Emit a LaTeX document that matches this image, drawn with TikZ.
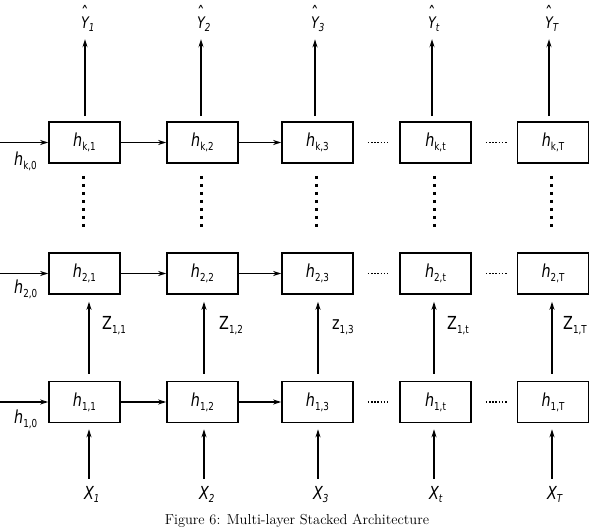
\documentclass[tikz,border=0pt]{standalone}
\usepackage{fontspec}
\usetikzlibrary{arrows.meta}
\newfontfamily\lf[FakeStretch=0.8]{DejaVu Sans}
\newcommand\subsz{\fontsize{11}{11}\selectfont}
\newcommand\hb[1]{{\itshape h}\raisebox{-4bp}{\subsz #1}}
\newcommand\hatY[1]{\ooalign{\itshape Y\cr\hidewidth\raisebox{8.5bp}{\fontsize{19}{19}\selectfont\char"02C6}\hidewidth\cr}\rlap{\raisebox{-3bp}{\subsz\itshape #1}}}
\newcommand\labX[1]{{\itshape X}\rlap{\raisebox{-3bp}{\subsz\itshape #1}}}
\newcommand\labZ[2]{#1\raisebox{-4bp}{\subsz #2}}
\begin{document}
\begin{tikzpicture}[x=1bp,y=-1bp,
  box/.style={draw, line width=1.6bp, minimum width=71bp, minimum height=41bp, inner sep=0pt, font=\lf\fontsize{18}{18}\selectfont},
  arr/.style={-{Stealth[length=8bp,width=5bp]}, line width=1.3bp},
  vdots/.style={line width=3bp, dash pattern=on 3bp off 5bp},
  hdots/.style={line width=1.8bp, dash pattern=on 1.6bp off 1.6bp},
  lab/.style={font=\lf\fontsize{18}{18}\selectfont, inner sep=0pt},
  ylab/.style={font=\lf\fontsize{16}{16}\selectfont, inner sep=0pt}]
\useasboundingbox (0,0) rectangle (593,532);
\foreach \c/\bx/\yx/\zx/\zl/\zt in {1/84.5/85/89/102/Z, 2/202.5/201/204/219/Z, 3/317.5/315/318/332/z, t/435.5/432/434/447/Z, T/553/549/552/563/Z}{
  \node[box] (k\c) at (\bx,142.5) {\hb{k,\c}};
  \node[box] (m\c) at (\bx,273.5) {\hb{2,\c}};
  \node[box] (b\c) at (\bx,402) {\hb{1,\c}};
  \draw[vdots] ([xshift=-1.5bp,yshift=-12bp]k\c.south) -- ([xshift=-1.5bp,yshift=21bp]m\c.north);
  \node[ylab, anchor=base] (Y\c) at (\yx,29) {\hatY{\c}};
  \draw[arr, shorten <=5bp, shorten >=7bp] (Y\c.south |- k\c.north) -- (Y\c.south);
  \node[lab, anchor=base] (X\c) at (\zx,499) {\labX{\c}};
  \draw[arr, shorten <=7bp, shorten >=6bp] (X\c.north) -- (X\c.north |- b\c.south);
  \coordinate (z\c) at (\zx,340);
  \draw[arr, shorten <=7bp, shorten >=7bp] (z\c |- b\c.north) -- (z\c |- m\c.south);
  \node[lab, anchor=base west] (Z\c) at (\zl,329) {\labZ{\zt}{1,\c}};
}
\foreach \r/\y/\lb/\s in {k/142.5/166/k, m/273.5/293/2, b/402/423/1}{
  \coordinate (in\r) at (0,\y);
  \draw[arr] (in\r) -- (\r1);
  \draw[arr] (\r1) -- (\r2);
  \draw[arr] (\r2) -- (\r3);
  \draw[hdots, shorten <=14bp, shorten >=11bp] (\r3) -- (\r t);
  \draw[hdots, shorten <=14bp, shorten >=10bp] (\r t) -- (\r T);
  \node[lab, anchor=base west] (h0\r) at (14,\lb) {\hb{\s,0}};
}
\node[font=\fontsize{14.5}{16}\selectfont, inner sep=0pt] (cap) at (297,521) {Figure 6: Multi-layer Stacked Architecture};
\end{tikzpicture}
\end{document}
